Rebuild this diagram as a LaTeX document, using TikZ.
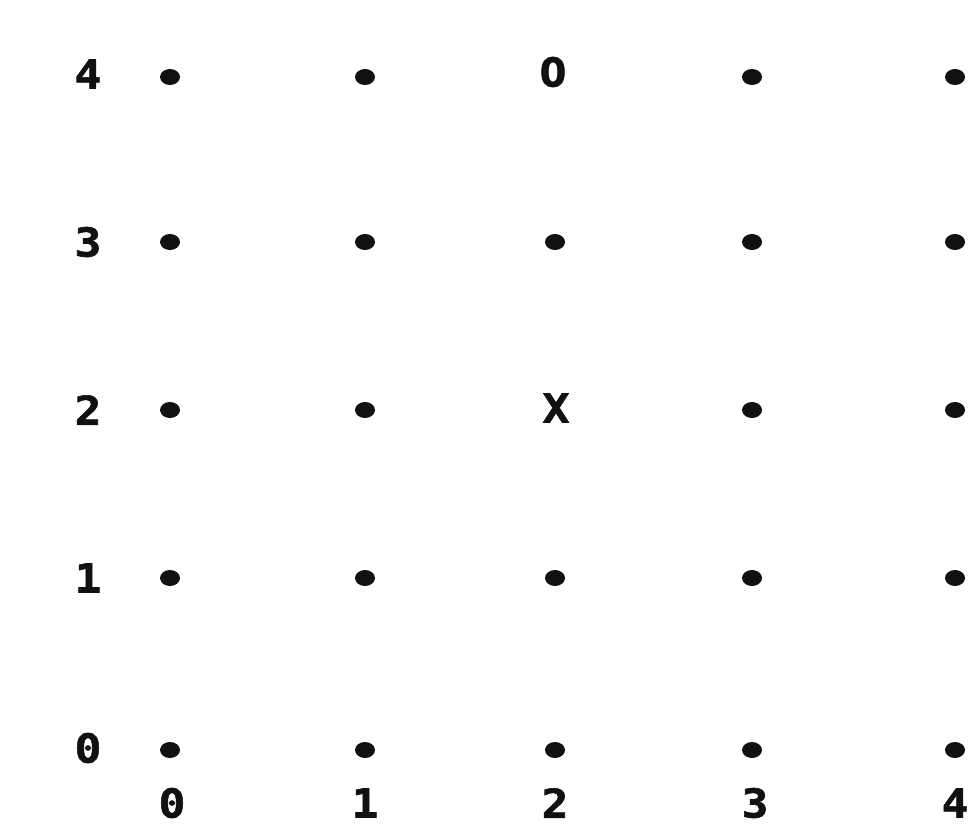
\documentclass[tikz,border=0pt]{standalone}
\usepackage{fontspec}
\setmonofont[BoldFeatures={FakeBold=1.5, FakeStretch=1.12}]{DejaVu Sans Mono}
\usetikzlibrary{shapes.geometric}
\definecolor{ink}{HTML}{111111}
\def\yaxis{88}
\def\xaxis{803}

\begin{document}
\begin{tikzpicture}[
    x=0.03cm, y=-0.03cm,
    every node/.style={font=\ttfamily\bfseries\fontsize{34}{34}\selectfont,
                       text=ink},
    pt/.style={ellipse, fill=ink, inner sep=0pt, minimum width=0.6cm,
               minimum height=0.48cm},
    sym/.style={inner sep=0pt},
    ]

\useasboundingbox (0,0) rectangle (975,833);

% ====================================================================
% Grid of points (the two marked cells get letters instead)
% ====================================================================
\foreach \i/\x in {0/170,1/365,2/555,3/752,4/955}
  \foreach \j/\y in {0/750,1/578,2/410,3/242,4/77} {
    \pgfmathtruncatemacro\isletter{(\i==2) && ((\j==2) || (\j==4))}
    \ifnum\isletter=0
      \node[pt] (d-\i-\j) at (\x,\y) {};
    \fi
  }

% Marked cells
\node[sym] (cross) at (556,408) {X};
\node[sym] (ring)  at (553,72)  {O};

% ====================================================================
% Axis labels
% ====================================================================
\foreach \j/\y in {0/748,1/578,2/410,3/242,4/74}
  \node[sym] (row-\j) at (\yaxis,\y) {\j};
\foreach \i/\x in {0/172,1/365,2/555,3/755,4/955}
  \node[sym] (col-\i) at (\x,\xaxis) {\i};

\end{tikzpicture}
\end{document}
